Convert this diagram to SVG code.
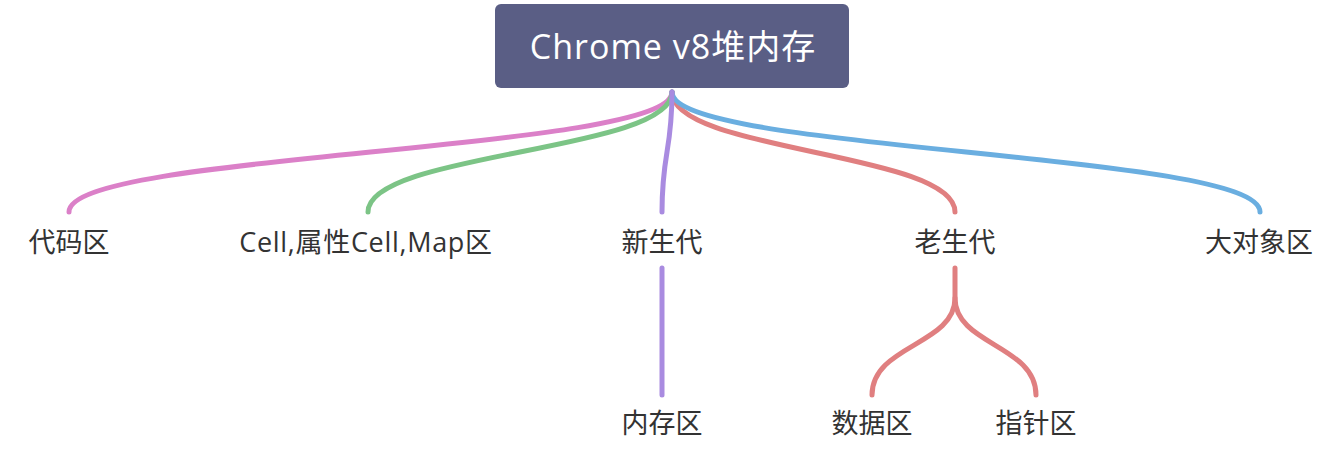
<svg xmlns="http://www.w3.org/2000/svg" width="1344" height="454" viewBox="0 0 1344 454">
<style>
.lbl{font-family:"Open Sans","Noto Sans CJK SC",sans-serif;font-size:27px;fill:#333333;text-anchor:middle;dominant-baseline:central}
.root{font-family:"Open Sans","Noto Sans CJK SC",sans-serif;font-size:34px;letter-spacing:1px;fill:#ffffff;text-anchor:middle;dominant-baseline:central}
.c{fill:none;stroke-width:5;stroke-linecap:round}
</style>
<rect width="1344" height="454" fill="#ffffff"/>
<g id="connectors">
<path class="c" stroke="#db80c8" d="M672,92 C672,152 69,152 69,212"/>
<path class="c" stroke="#7cc486" d="M672,92 C672,152 368,152 368,212"/>
<path class="c" stroke="#e07f80" d="M672,92 C672,152 955,152 955,212"/>
<path class="c" stroke="#6aaee0" d="M672,92 C672,152 1260,152 1260,212"/>
<path class="c" stroke="#a98be0" d="M672,92 C672,152 662,152 662,212"/>
<path class="c" stroke="#a98be0" d="M662,268 L662,395"/>
<path class="c" stroke="#e07f80" d="M955,268 L955,298 C955,345 872,345 872,395"/>
<path class="c" stroke="#e07f80" d="M955,298 C955,345 1036,345 1036,395"/>
</g>
<g id="root">
<rect x="495" y="4" width="354" height="84" rx="6" fill="#5a5e85"/>
<text class="root" x="673" y="46">Chrome v8堆内存</text>
</g>
<g id="n1"><text class="lbl" x="69" y="241">代码区</text></g>
<g id="n2"><text class="lbl" x="366" y="241" letter-spacing="0.7">Cell,属性Cell,Map区</text></g>
<g id="n3"><text class="lbl" x="662" y="241">新生代</text></g>
<g id="n4"><text class="lbl" x="955" y="241">老生代</text></g>
<g id="n5"><text class="lbl" x="1259" y="241">大对象区</text></g>
<g id="n6"><text class="lbl" x="662" y="422">内存区</text></g>
<g id="n7"><text class="lbl" x="872" y="422">数据区</text></g>
<g id="n8"><text class="lbl" x="1036" y="422">指针区</text></g>
</svg>
